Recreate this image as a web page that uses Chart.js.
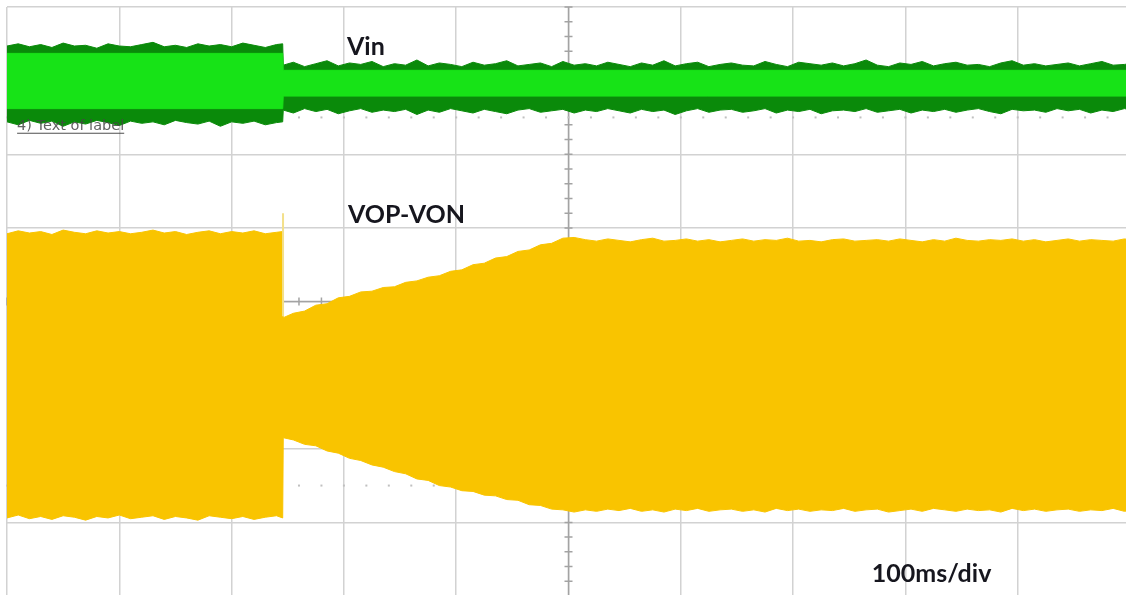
<!DOCTYPE html>
<html>
<head>
<meta charset="utf-8">
<script src="https://cdn.jsdelivr.net/npm/chart.js@4/dist/chart.umd.min.js"></script>
<style>
  html, body { margin: 0; padding: 0; background: #ffffff; overflow: hidden; width: 1126px; height: 595px; }
  #wrap { position: absolute; left: 0; top: 0; width: 1130px; height: 596px; }
</style>
</head>
<body>
<div id="wrap"><canvas id="c"></canvas></div>
<script>
// ---- time axis (ms), 100 ms / div ----
const timeMs = [
  0,10,20,30,40,50,60,70,80,90,
  100,110,120,130,140,150,160,170,180,190,
  200,210,220,230,240,245.5,
  246,255,265,275,285,295,305,315,325,335,
  345,355,365,375,385,395,405,415,425,435,
  445,455,465,475,485,495,505,515,525,535,
  545,555,565,575,585,595,605,615,625,635,
  645,655,665,675,685,695,705,715,725,735,
  745,755,765,775,785,795,805,815,825,835,
  845,855,865,875,885,895,905,915,925,935,
  945,955,965,975,985,995,1005
];

// ---- VOP-VON envelope (divisions) ----
const vopTop = [
  0.92,0.96,0.93,0.95,0.91,0.97,0.94,0.92,0.96,0.93,
  0.95,0.92,0.94,0.97,0.93,0.95,0.91,0.94,0.96,0.92,
  0.95,0.93,0.96,0.92,0.94,0.95,
  -0.22,-0.16,-0.13,-0.05,-0.03,0.05,0.07,0.13,0.14,0.19,
  0.20,0.26,0.28,0.33,0.35,0.41,0.43,0.50,0.52,0.59,
  0.61,0.68,0.70,0.77,0.79,0.86,0.87,0.84,0.82,0.85,
  0.83,0.81,0.84,0.86,0.82,0.83,0.85,0.82,0.84,0.81,
  0.83,0.85,0.82,0.84,0.83,0.86,0.82,0.83,0.81,0.84,
  0.85,0.82,0.83,0.84,0.82,0.85,0.83,0.81,0.84,0.82,
  0.86,0.83,0.82,0.84,0.83,0.85,0.82,0.84,0.81,0.83,
  0.85,0.82,0.84,0.83,0.82,0.85,0.83
];
const vopBottom = [
  -2.94,-2.90,-2.95,-2.92,-2.96,-2.91,-2.93,-2.97,-2.92,-2.94,
  -2.90,-2.95,-2.93,-2.91,-2.96,-2.92,-2.94,-2.97,-2.91,-2.93,
  -2.95,-2.92,-2.96,-2.93,-2.91,-2.94,
  -1.85,-1.88,-1.94,-1.96,-2.03,-2.06,-2.13,-2.16,-2.22,-2.25,
  -2.31,-2.34,-2.41,-2.43,-2.50,-2.52,-2.57,-2.58,-2.63,-2.64,
  -2.69,-2.70,-2.76,-2.77,-2.82,-2.83,-2.86,-2.83,-2.85,-2.82,
  -2.84,-2.81,-2.85,-2.83,-2.86,-2.82,-2.84,-2.81,-2.85,-2.83,
  -2.82,-2.85,-2.83,-2.86,-2.81,-2.84,-2.82,-2.85,-2.83,-2.84,
  -2.81,-2.85,-2.83,-2.82,-2.86,-2.84,-2.82,-2.85,-2.81,-2.83,
  -2.85,-2.82,-2.84,-2.83,-2.86,-2.81,-2.84,-2.82,-2.85,-2.83,
  -2.82,-2.85,-2.83,-2.84,-2.81,-2.85,-2.83
];

// ---- Vin envelope (divisions) ----
const vinOuterHi = [
  3.47,3.50,3.46,3.49,3.45,3.51,3.47,3.48,3.44,3.50,
  3.47,3.46,3.49,3.52,3.46,3.48,3.45,3.50,3.47,3.49,
  3.46,3.51,3.48,3.45,3.49,3.50,
  3.21,3.25,3.19,3.23,3.27,3.20,3.24,3.22,3.26,3.19,
  3.23,3.21,3.28,3.20,3.24,3.22,3.19,3.25,3.21,3.23,
  3.27,3.20,3.22,3.24,3.19,3.26,3.21,3.23,3.20,3.25,
  3.22,3.19,3.24,3.21,3.27,3.20,3.23,3.25,3.19,3.22,
  3.24,3.21,3.20,3.26,3.22,3.19,3.25,3.23,3.21,3.24,
  3.20,3.23,3.28,3.21,3.19,3.24,3.22,3.26,3.20,3.23,
  3.25,3.21,3.22,3.19,3.24,3.27,3.21,3.23,3.20,3.22,
  3.24,3.20,3.23,3.26,3.21,3.22,3.24
];
const vinOuterLo = [
  2.44,2.40,2.46,2.42,2.45,2.38,2.44,2.41,2.46,2.43,
  2.39,2.45,2.42,2.44,2.40,2.46,2.43,2.41,2.45,2.38,
  2.44,2.42,2.45,2.40,2.43,2.44,
  2.60,2.56,2.62,2.58,2.61,2.55,2.59,2.62,2.57,2.60,
  2.58,2.61,2.54,2.60,2.57,2.62,2.59,2.56,2.61,2.58,
  2.55,2.60,2.62,2.57,2.59,2.61,2.56,2.60,2.58,2.62,
  2.59,2.56,2.61,2.58,2.60,2.54,2.59,2.62,2.57,2.60,
  2.61,2.57,2.59,2.62,2.56,2.60,2.58,2.61,2.55,2.59,
  2.60,2.58,2.62,2.57,2.59,2.61,2.56,2.60,2.58,2.61,
  2.57,2.60,2.62,2.58,2.55,2.61,2.59,2.60,2.57,2.62,
  2.59,2.61,2.56,2.60,2.58,2.62,2.59
];
const bandTimeMs = [0, 245.5, 246, 1005];
const vinInnerHi = [3.37, 3.37, 3.14, 3.14];
const vinInnerLo = [2.62, 2.62, 2.79, 2.79];

// switching glitch on VOP-VON
const glitchTimeMs = [245.8, 245.8];
const glitchV = [1.20, -0.20];

// ---- labels ----
const labelTexts = ['Vin', 'VOP-VON', '100ms/div'];
const labelTimeMs = [302.7, 303.6, 770];
const labelDiv = [3.46, 1.17, -3.70];
const noteText = '4) Text of label';

const pts = (xs, ys) => xs.map((t, i) => ({ x: t, y: ys[i] }));

const YELLOW = '#f9c400';
const DKGREEN = '#0a8a0a';
const LTGREEN = '#17e317';

const scopeDecor = {
  id: 'scopeDecor',
  beforeDatasetsDraw(chart) {
    const { ctx, chartArea: a, scales: { x, y } } = chart;
    ctx.save();
    ctx.strokeStyle = '#a3a3a3';
    ctx.lineWidth = 1.5;
    const cx = x.getPixelForValue(500), cy = y.getPixelForValue(0);
    ctx.beginPath();
    ctx.moveTo(cx, a.top); ctx.lineTo(cx, a.bottom);
    ctx.moveTo(a.left, cy); ctx.lineTo(a.right, cy);
    for (let k = -20; k <= 20; k++) {
      const py = y.getPixelForValue(k * 0.2);
      ctx.moveTo(cx - 4, py); ctx.lineTo(cx + 4, py);
    }
    for (let k = 0; k <= 50; k++) {
      const px = x.getPixelForValue(k * 20);
      ctx.moveTo(px, cy - 4); ctx.lineTo(px, cy + 4);
    }
    ctx.stroke();
    // dotted minor markers
    ctx.fillStyle = '#c0c0c0';
    [2.5, -2.5].forEach(v => {
      const py = y.getPixelForValue(v);
      for (let k = 0; k <= 50; k++) {
        const px = x.getPixelForValue(k * 20);
        ctx.fillRect(px - 1, py - 1, 2, 2);
      }
    });
    ctx.restore();
  },
  afterDatasetsDraw(chart) {
    const { ctx, scales: { x, y } } = chart;
    ctx.save();
    ctx.fillStyle = '#16161e';
    ctx.font = 'bold 25px Lato, "Open Sans", sans-serif';
    ctx.textAlign = 'left';
    ctx.textBaseline = 'middle';
    labelTexts.forEach((s, i) => {
      ctx.fillText(s, x.getPixelForValue(labelTimeMs[i]), y.getPixelForValue(labelDiv[i]));
    });
    // small note label
    const nx = x.getPixelForValue(9), ny = y.getPixelForValue(2.38);
    ctx.font = '14.5px "DejaVu Sans", sans-serif';
    ctx.fillStyle = 'rgba(70,70,70,0.85)';
    ctx.fillText(noteText, nx, ny);
    const w = ctx.measureText(noteText).width;
    ctx.strokeStyle = 'rgba(60,60,60,0.9)';
    ctx.lineWidth = 1.2;
    ctx.beginPath();
    ctx.moveTo(nx, ny + 7); ctx.lineTo(nx + w, ny + 7);
    ctx.stroke();
    ctx.restore();
  }
};

const lineDs = (data, color, fill, extra = {}) => Object.assign({
  data, borderColor: color, backgroundColor: color, borderWidth: 1,
  pointRadius: 0, fill, tension: 0
}, extra);

new Chart(document.getElementById('c'), {
  type: 'line',
  data: {
    datasets: [
      lineDs(pts(glitchTimeMs, glitchV), '#f3e08a', false, { borderWidth: 2 }),
      lineDs(pts(bandTimeMs, vinInnerHi), LTGREEN, '+1'),
      lineDs(pts(bandTimeMs, vinInnerLo), LTGREEN, false),
      lineDs(pts(timeMs, vinOuterHi), DKGREEN, '+1'),
      lineDs(pts(timeMs, vinOuterLo), DKGREEN, false),
      lineDs(pts(timeMs, vopTop), YELLOW, '+1'),
      lineDs(pts(timeMs, vopBottom), YELLOW, false)
    ]
  },
  options: {
    responsive: true,
    maintainAspectRatio: false,
    animation: false,
    events: [],
    layout: { padding: { left: 7, top: 7, right: 0, bottom: 0 } },
    plugins: { legend: { display: false }, tooltip: { enabled: false } },
    scales: {
      x: {
        type: 'linear', min: 0, max: 1000,
        ticks: { display: false, stepSize: 100 },
        grid: { color: '#d2d2d2', lineWidth: 1.5, drawTicks: false },
        border: { display: false }
      },
      y: {
        type: 'linear', min: -4, max: 4,
        ticks: { display: false, stepSize: 1 },
        grid: { color: '#d2d2d2', lineWidth: 1.5, drawTicks: false },
        border: { display: false }
      }
    }
  },
  plugins: [scopeDecor]
});
</script>
</body>
</html>
